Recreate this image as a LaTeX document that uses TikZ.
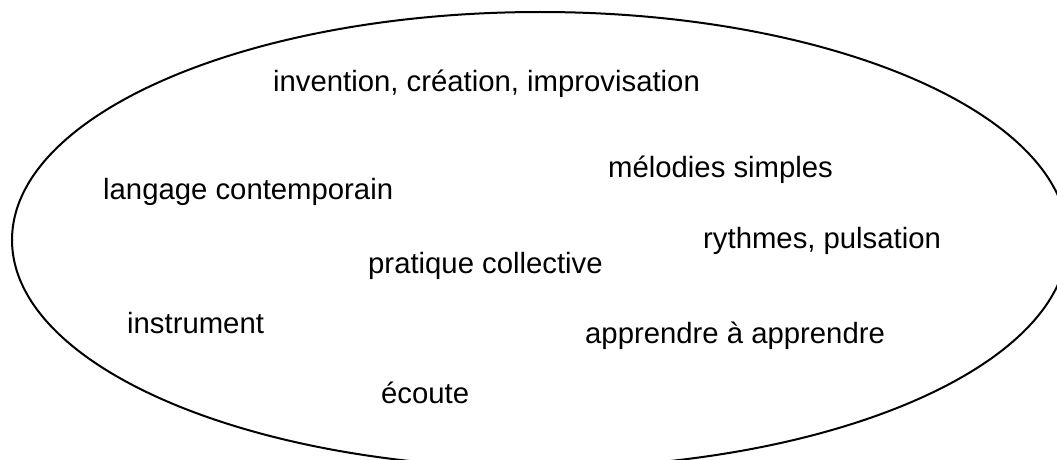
\documentclass[tikz,border=0pt]{standalone}
\usepackage{fontspec}
\setmainfont{Liberation Sans}
\begin{document}
\begin{tikzpicture}[x=1pt,y=1pt,
  lbl/.style={anchor=base west,inner sep=0pt,font=\fontsize{29.3}{35}\selectfont}]
\useasboundingbox (0,0) rectangle (1057,459);
\clip (0,0) rectangle (1057,459);
\draw[line width=2pt] (540,219) ellipse [x radius=528, y radius=228];
\node[lbl] (inv) at (273,367) {invention, création, improvisation};
\node[lbl] (lang) at (103,260) {langage contemporain};
\node[lbl] (mel) at (608,282) {mélodies simples};
\node[lbl] (ryt) at (703,211) {rythmes, pulsation};
\node[lbl] (prat) at (368,186) {pratique collective};
\node[lbl] (inst) at (127,126) {instrument};
\node[lbl] (app) at (585,116) {apprendre à apprendre};
\node[lbl] (ecou) at (381,56) {écoute};
\end{tikzpicture}
\end{document}
